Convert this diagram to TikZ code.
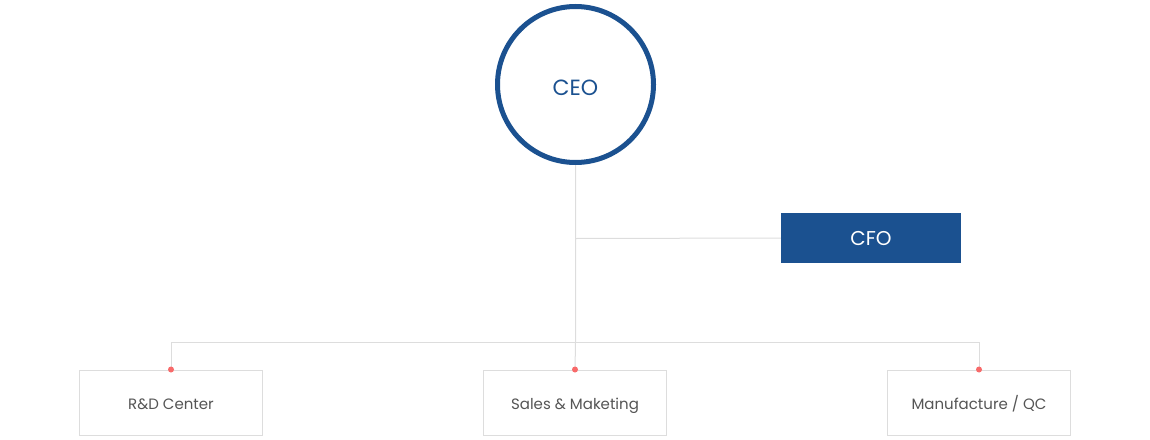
\documentclass[tikz,border=0pt]{standalone}
\usepackage{fontspec}
\setmainfont{Poppins}
\definecolor{ceoblue}{HTML}{1B5190}
\definecolor{linegray}{HTML}{DDDDDD}
\definecolor{txtgray}{HTML}{555555}
\definecolor{dotred}{HTML}{F86A6A}
\tikzset{
  conn/.style={draw=linegray, line width=1pt},
  capcenter/.style={text height=0.7em, text depth=0pt},
  dept/.style={draw=linegray, line width=1pt, fill=white, minimum width=183pt, minimum height=65pt, inner sep=0pt, text=txtgray, font=\fontsize{15}{18}\selectfont, capcenter},
  reddot/.style={circle, fill=dotred, inner sep=0pt, minimum size=6pt},
}
\newcommand{\lowr}[2]{\raisebox{-#1pt}{#2}}
\begin{document}
\begin{tikzpicture}[x=1pt,y=-1pt]
\useasboundingbox (0,0) rectangle (1150,439);
\coordinate (jcfo) at (575.5,238.5);
\coordinate (jbar) at (575.5,342);
\coordinate (lbar) at (171,342);
\coordinate (rbar) at (979,342);
\node[circle, draw=ceoblue, line width=5pt, fill=white, minimum size=156pt, inner sep=0pt, text=ceoblue, font=\fontsize{22}{26}\selectfont, capcenter] (ceo) at (575.5,84.5) {\lowr{7.5}{CEO}};
\node[fill=ceoblue, minimum width=180pt, minimum height=50pt, inner sep=0pt, text=white, font=\fontsize{20}{24}\selectfont, capcenter] (cfo) at (871,238) {\lowr{4.3}{CFO}};
\node[dept] (rd) at (171,402.5) {\lowr{3.5}{R\&D Center}};
\node[dept] (sales) at (575,402.5) {\lowr{3.5}{Sales \& Maketing}};
\node[dept] (mfg) at (979,402.5) {\lowr{3.5}{Manufacture / QC}};
\draw[conn] (ceo.south) -- (jcfo) -- (jbar) -- (sales.north);
\draw[conn] (jcfo) -- (cfo.west);
\draw[conn] (rd.north) -- (lbar) -- (rbar) -- (mfg.north);
\node[reddot] (d1) at (rd.north) {};
\node[reddot] (d2) at (sales.north) {};
\node[reddot] (d3) at (mfg.north) {};
\end{tikzpicture}
\end{document}
